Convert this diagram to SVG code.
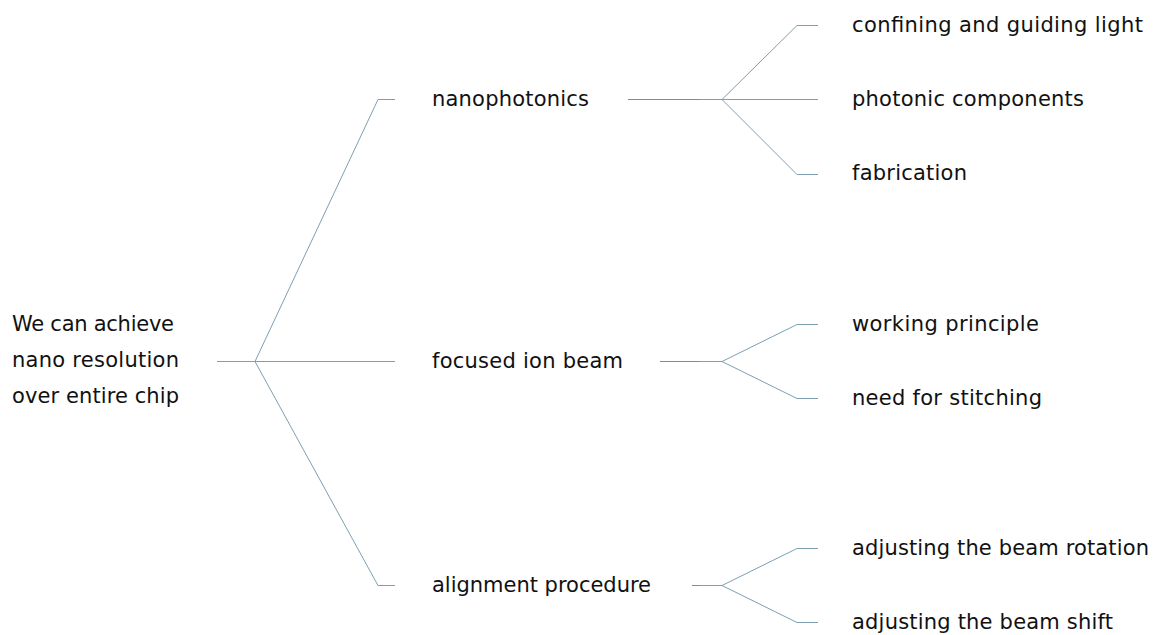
<svg xmlns="http://www.w3.org/2000/svg" width="1165" height="635" viewBox="0 0 1165 635">
<style>
text{font-family:"DejaVu Sans","Liberation Sans",sans-serif;font-size:21px;fill:#111}
.c{fill:none;stroke:#7e9fb0;stroke-width:1}
.g{fill:none;stroke:#8a8a8a;stroke-width:1}
</style>
<rect width="1165" height="635" fill="#fff"/>
<g id="connectors">
<path class="c" d="M217,361.5H255M255,361.5H395M255,361.5L378,99.5H395M255,361.5L378,585.5H395"/>
<path class="g" d="M628,99.5H700"/>
<path class="c" d="M700,99.5H722M722,99.5L797,25.5H818M722,99.5H818M722,99.5L797,174.5H818"/>
<path class="g" d="M660,361.5H700"/>
<path class="c" d="M700,361.5H722M722,361.5L797,324.5H818M722,361.5L797,398.5H818"/>
<path class="g" d="M692,585.5H700"/>
<path class="c" d="M700,585.5H722M722,585.5L797,548.5H818M722,585.5L797,622.5H818"/>
</g>
<g id="root"><text x="12" y="331" textLength="162" lengthAdjust="spacing">We can achieve</text><text x="12" y="367" textLength="167" lengthAdjust="spacing">nano resolution</text><text x="12" y="403" textLength="167" lengthAdjust="spacing">over entire chip</text></g>
<g id="nanophotonics"><text x="432" y="106" textLength="157" lengthAdjust="spacing">nanophotonics</text></g>
<g id="focused-ion-beam"><text x="432" y="368" textLength="191" lengthAdjust="spacing">focused ion beam</text></g>
<g id="alignment-procedure"><text x="432" y="592" textLength="219" lengthAdjust="spacing">alignment procedure</text></g>
<g id="confining"><text x="852" y="32" textLength="291" lengthAdjust="spacing">confining and guiding light</text></g>
<g id="photonic-components"><text x="852" y="106" textLength="232" lengthAdjust="spacing">photonic components</text></g>
<g id="fabrication"><text x="852" y="180" textLength="115" lengthAdjust="spacing">fabrication</text></g>
<g id="working-principle"><text x="852" y="331" textLength="187" lengthAdjust="spacing">working principle</text></g>
<g id="need-for-stitching"><text x="852" y="405" textLength="190" lengthAdjust="spacing">need for stitching</text></g>
<g id="beam-rotation"><text x="852" y="555" textLength="297" lengthAdjust="spacing">adjusting the beam rotation</text></g>
<g id="beam-shift"><text x="852" y="629" textLength="261" lengthAdjust="spacing">adjusting the beam shift</text></g>
</svg>
